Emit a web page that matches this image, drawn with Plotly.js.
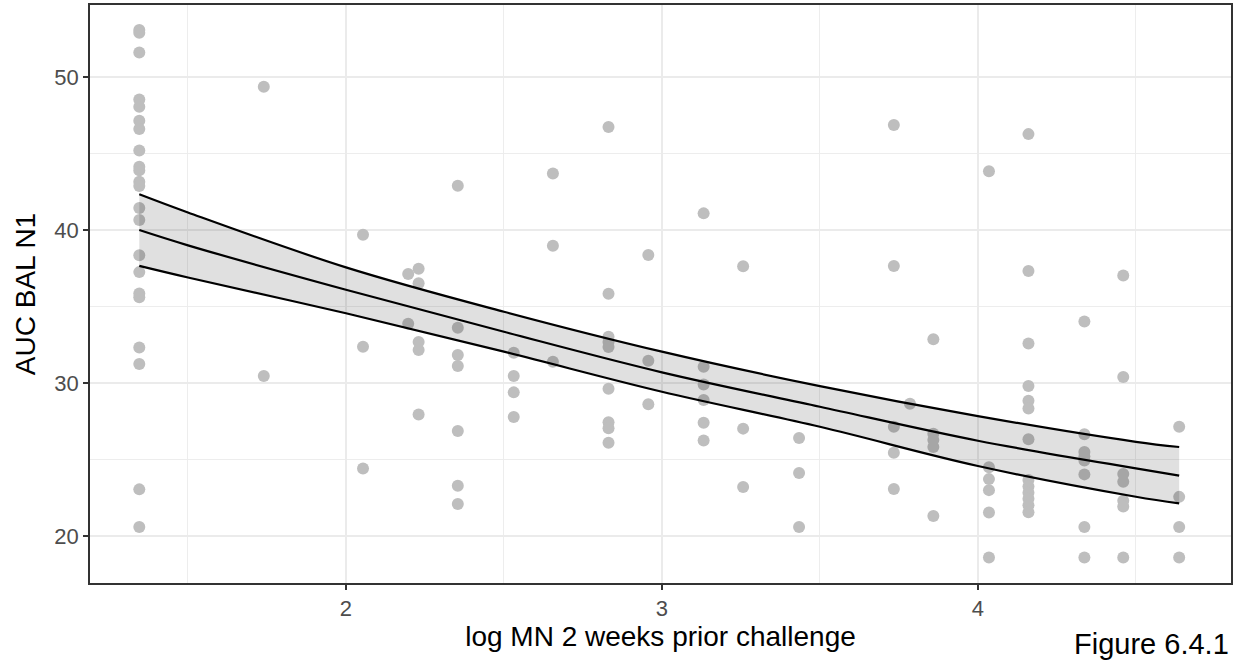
<!DOCTYPE html>
<html>
<head>
<meta charset="utf-8">
<script src="https://cdn.plot.ly/plotly-3.0.1.min.js"></script>
<style>html,body{margin:0;padding:0;background:#fff;}#chart{width:1235px;height:660px;}</style>
</head>
<body>
<div id="chart"></div>
<script>
// Observed points: log MN 2 weeks prior challenge (x) and AUC BAL N1 (y)
const logMN = [
  1.346,1.346,1.346,1.346,1.346,1.346,1.346,1.346,1.346,1.346,1.346,1.346,1.346,1.346,1.346,1.346,1.346,1.346,1.346,1.346,1.346,1.346,
  1.74,1.74,
  2.054,2.054,2.054,
  2.197,2.197,
  2.23,2.23,2.23,2.23,2.23,
  2.354,2.354,2.354,2.354,2.354,2.354,2.354,
  2.531,2.531,2.531,2.531,
  2.655,2.655,2.655,
  2.831,2.831,2.831,2.831,2.831,2.831,2.831,2.831,2.831,
  2.957,2.957,2.957,
  3.132,3.132,3.132,3.132,3.132,3.132,
  3.257,3.257,3.257,
  3.434,3.434,3.434,
  3.734,3.734,3.734,3.734,3.734,
  3.785,
  3.859,3.859,3.859,3.859,3.859,
  4.035,4.035,4.035,4.035,4.035,4.035,
  4.16,4.16,4.16,4.16,4.16,4.16,4.16,4.16,4.16,4.16,4.16,4.16,4.16,
  4.337,4.337,4.337,4.337,4.337,4.337,4.337,4.337,
  4.46,4.46,4.46,4.46,4.46,4.46,4.46,
  4.637,4.637,4.637,4.637
];
const aucBAL = [
  53.07,52.9,51.6,48.54,48.06,47.15,46.6,45.2,44.14,43.9,43.16,42.88,41.44,40.65,38.35,37.25,35.85,35.6,32.33,31.24,23.05,20.59,
  49.37,30.46,
  39.7,32.37,24.42,
  37.12,33.88,
  37.47,36.53,32.68,32.16,27.95,
  42.9,33.61,31.83,31.11,26.86,23.29,22.09,
  31.98,30.46,29.39,27.78,
  43.7,38.97,31.39,
  46.73,35.84,33.03,32.68,32.35,29.63,27.43,27.04,26.1,
  38.37,31.46,28.61,
  41.09,31.07,29.9,28.89,27.4,26.25,
  37.63,27.02,23.2,
  26.41,24.12,20.59,
  46.86,37.65,27.14,25.44,23.07,
  28.65,
  32.86,26.69,26.27,25.82,21.31,
  43.84,24.5,23.72,23.0,21.54,18.59,
  46.27,37.32,32.58,29.81,28.84,28.33,26.33,23.66,23.24,22.83,22.43,22.02,21.55,
  34.03,26.65,25.49,25.2,24.94,24.03,20.59,18.59,
  37.03,30.4,24.06,23.55,22.3,21.93,18.59,
  27.14,22.56,20.59,18.59
];

// Fitted curve and confidence band
const fitX     = [1.346, 1.5,   2,     2.5,   3,     3.5,   4,     4.5,   4.637];
const fitMid   = [40.0,  39.0,  36.1,  33.35, 30.7,  28.45, 26.23, 24.42, 23.95];
const fitUpper = [42.34, 41.15, 37.56, 34.66, 32.05, 29.8,  27.84, 26.16, 25.82];
const fitLower = [37.66, 36.9,  34.56, 32.05, 29.43, 27.14, 24.58, 22.57, 22.14];

const xTicks = [2, 3, 4];
const xMinor = [1.5, 2.5, 3.5, 4.5];
const yTicks = [20, 30, 40, 50];
const yMinor = [25, 35, 45];

const FONT = '"Liberation Sans", Arial, Helvetica, sans-serif';

const traces = [
  {x: logMN, y: aucBAL, type: 'scatter', mode: 'markers',
   marker: {color: '#BEBEBE', size: 12, line: {width: 0}}, hoverinfo: 'x+y'},
  {x: fitX, y: fitLower, type: 'scatter', mode: 'lines',
   line: {width: 0, color: 'rgba(0,0,0,0)', shape: 'spline'}, hoverinfo: 'skip'},
  {x: fitX, y: fitUpper, type: 'scatter', mode: 'lines', fill: 'tonexty',
   fillcolor: 'rgba(0,0,0,0.12)', line: {width: 0, color: 'rgba(0,0,0,0)', shape: 'spline'}, hoverinfo: 'skip'},
  {x: fitX, y: fitUpper, type: 'scatter', mode: 'lines', line: {color: '#000', width: 2.2, shape: 'spline'}},
  {x: fitX, y: fitMid, type: 'scatter', mode: 'lines', line: {color: '#000', width: 2.2, shape: 'spline'}},
  {x: fitX, y: fitLower, type: 'scatter', mode: 'lines', line: {color: '#000', width: 2.2, shape: 'spline'}}
];

const layout = {
  width: 1235, height: 660,
  margin: {l: 90, r: 4, t: 5, b: 77, pad: 0},
  paper_bgcolor: '#fff', plot_bgcolor: '#fff',
  showlegend: false,
  font: {family: FONT, color: '#000'},
  xaxis: {
    range: [1.19, 4.801], tickmode: 'array', tickvals: xTicks, ticktext: xTicks.map(String),
    showgrid: true, gridcolor: '#EBEBEB', gridwidth: 1.6, zeroline: false,
    showline: true, mirror: true, linecolor: '#333333', linewidth: 1.8,
    ticks: 'outside', ticklen: 5, tickwidth: 1.6, tickcolor: '#333333',
    tickfont: {size: 22, color: '#4D4D4D', family: FONT},
    minor: {tickvals: xMinor, showgrid: true, gridcolor: '#EBEBEB', gridwidth: 0.9, ticks: ''},
    title: {text: 'log MN 2 weeks prior challenge', font: {size: 28, color: '#000', family: FONT}, standoff: 6},
    automargin: false
  },
  yaxis: {
    range: [16.93, 54.71], tickmode: 'array', tickvals: yTicks, ticktext: yTicks.map(String),
    showgrid: true, gridcolor: '#EBEBEB', gridwidth: 1.6, zeroline: false,
    showline: true, mirror: true, linecolor: '#333333', linewidth: 1.8,
    ticks: 'outside', ticklen: 5, tickwidth: 1.6, tickcolor: '#333333',
    tickfont: {size: 22, color: '#4D4D4D', family: FONT},
    minor: {tickvals: yMinor, showgrid: true, gridcolor: '#EBEBEB', gridwidth: 0.9, ticks: ''},
    title: {text: 'AUC BAL N1', font: {size: 28, color: '#000', family: FONT}, standoff: 10},
    automargin: false
  },
  annotations: [{
    text: 'Figure 6.4.1', xref: 'paper', yref: 'paper', x: 1.0, y: (583 - 662) / 578,
    xanchor: 'right', yanchor: 'bottom', showarrow: false,
    font: {size: 29, color: '#000', family: FONT}
  }]
};

Plotly.newPlot('chart', traces, layout, {displayModeBar: false, staticPlot: true});
</script>
</body>
</html>
